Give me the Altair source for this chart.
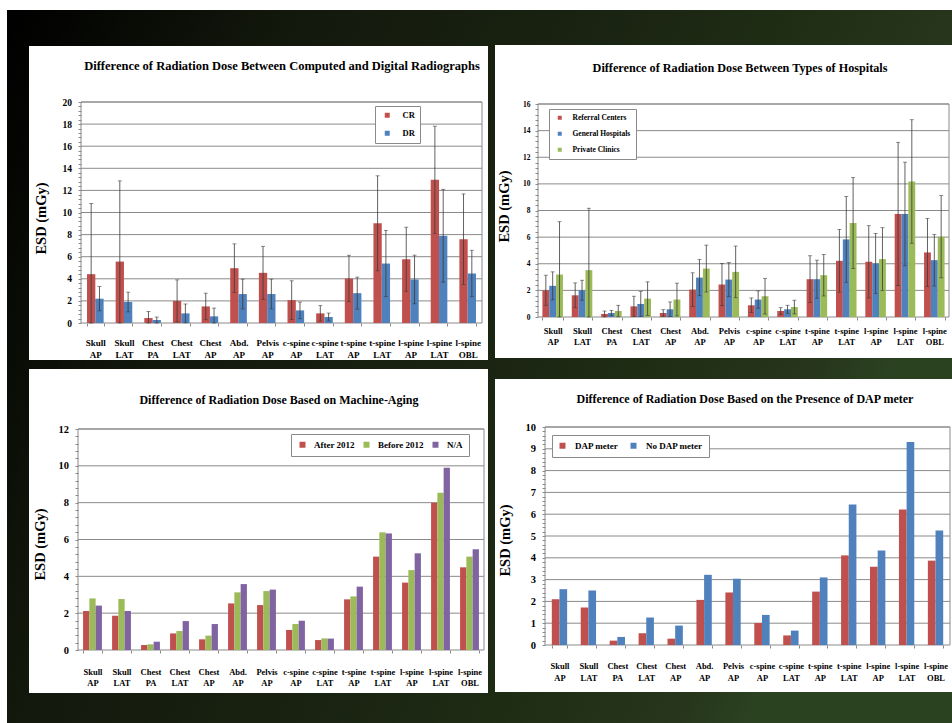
import altair as alt
import pandas as pd

W, H = 952, 723

categories = ["Skull|AP", "Skull|LAT", "Chest|PA", "Chest|LAT", "Chest|AP", "Abd.|AP", "Pelvis|AP",
              "c-spine|AP", "c-spine|LAT", "t-spine|AP", "t-spine|LAT", "l-spine|AP", "l-spine|LAT",
              "l-spine|OBL"]

# Computed (CR) vs digital (DR) radiography: mean ESD and SD (mGy)
cr_mean = [4.42, 5.56, 0.45, 2.00, 1.50, 4.96, 4.54, 2.07, 0.87, 4.03, 9.02, 5.77, 12.96, 7.58]
cr_sd = [6.40, 7.30, 0.60, 1.90, 1.20, 2.20, 2.40, 1.75, 0.70, 2.10, 4.30, 2.90, 4.85, 4.10]
dr_mean = [2.20, 1.90, 0.27, 0.87, 0.60, 2.62, 2.62, 1.14, 0.54, 2.70, 5.38, 3.94, 7.90, 4.48]
dr_sd = [1.10, 0.90, 0.27, 0.85, 0.75, 1.35, 1.35, 0.75, 0.36, 1.45, 3.00, 2.20, 4.20, 2.10]

# Types of hospitals: mean ESD and SD (mGy)
ref_mean = [2.01, 1.63, 0.23, 0.80, 0.30, 2.06, 2.44, 0.88, 0.45, 2.84, 4.22, 4.15, 7.74, 4.85]
ref_sd = [1.13, 0.93, 0.22, 0.76, 0.25, 1.26, 1.58, 0.55, 0.25, 1.76, 2.36, 2.71, 5.38, 2.56]
gen_mean = [2.34, 2.01, 0.30, 0.98, 0.58, 2.96, 2.81, 1.31, 0.58, 2.84, 5.83, 4.02, 7.74, 4.27]
gen_sd = [1.05, 0.75, 0.20, 0.95, 0.55, 1.36, 1.28, 0.65, 0.30, 1.43, 3.22, 2.26, 3.89, 1.94]
pri_mean = [3.19, 3.52, 0.45, 1.38, 1.31, 3.64, 3.39, 1.56, 0.75, 3.14, 7.06, 4.35, 10.18, 6.03]
pri_sd = [3.97, 4.65, 0.43, 1.26, 1.23, 1.76, 1.94, 1.33, 0.51, 1.56, 3.42, 2.36, 4.64, 3.09]

# Machine aging: mean ESD (mGy)
after_2012 = [2.12, 1.86, 0.27, 0.90, 0.58, 2.53, 2.44, 1.09, 0.54, 2.75, 5.07, 3.66, 8.00, 4.49]
before_2012 = [2.80, 2.77, 0.31, 1.03, 0.78, 3.13, 3.20, 1.41, 0.63, 2.91, 6.39, 4.34, 8.54, 5.07]
na_age = [2.41, 2.12, 0.45, 1.57, 1.41, 3.58, 3.28, 1.59, 0.62, 3.44, 6.33, 5.25, 9.90, 5.47]

# Presence of a DAP meter: mean ESD (mGy)
dap_meter = [2.10, 1.72, 0.20, 0.54, 0.29, 2.07, 2.41, 1.01, 0.44, 2.45, 4.11, 3.59, 6.21, 3.87]
no_dap_meter = [2.56, 2.50, 0.37, 1.26, 0.89, 3.22, 3.04, 1.38, 0.66, 3.10, 6.44, 4.33, 9.31, 5.25]

RED, BLUE, GREEN, PURPLE = "#c0504d", "#4f81bd", "#9bbb59", "#8064a2"
FONT = "Liberation Serif"
GRID = "#8a8a8a"
ERR = "#3a3a3a"


def long_table(series_names, means, sds=None):
    rows = []
    for k, name in enumerate(series_names):
        for i, cat in enumerate(categories):
            m = means[k][i]
            row = {"cat": cat, "series": name, "esd": m}
            if sds is not None:
                s = sds[k][i]
                row["lo"] = max(0.0, m - s)
                row["hi"] = m + s
            rows.append(row)
    return pd.DataFrame(rows)


def box(x0, x1, y0, y1, **mark):
    return alt.Chart(alt.Data(values=[{}])).mark_rect(**mark).encode(
        x=alt.value(x0), x2=alt.value(x1), y=alt.value(y0), y2=alt.value(y1))


def panel(g, table, series_names, colors, legend, errors=False):
    x0, y0, x1, y1 = g["plot"]
    cx0, cy0, cx1, cy1 = g["card"]
    ymax, major, minor = g["ymax"], g["major"], g["minor"]
    majors = [round(major * k, 6) for k in range(int(round(ymax / major)) + 1)]
    minors = [round(minor * k, 6) for k in range(int(round(ymax / minor)) + 1)]

    yscale = alt.Scale(domain=[0, ymax], range=[y1, y0], nice=False, zero=True)
    xscale = alt.Scale(range=[x0, x1], paddingInner=g["pad"], paddingOuter=g["pad"] / 2)

    # minor ticks everywhere, integer labels on the major steps only;
    # every layer on the shared y scale carries this same axis definition
    y_axis = alt.Axis(
        orient="left", offset=-x0, values=minors,
        labelExpr=(f"abs(datum.value / {major} - round(datum.value / {major})) < 0.001"
                   " ? '' + round(datum.value) : ''"),
        domain=False, grid=False, ticks=True, tickSize=3, tickColor=GRID,
        labelFont=FONT, labelFontWeight="bold", labelFontSize=g["ytick_fs"], labelColor="black",
        labelPadding=g["ylab_pad"], labelOverlap=False,
        title="ESD (mGy)", titleFont=FONT, titleFontWeight="bold", titleFontSize=14.5,
        titleColor="black", titleAngle=270, titleX=g["ytitle"][0] - x0, titleY=g["ytitle"][1],
        titleAlign="center", titleBaseline="middle", zindex=1)

    x_axis = alt.Axis(
        orient="bottom", offset=y1 - H, domain=False, grid=False, ticks=True, tickBand="extent",
        tickSize=3, tickColor=GRID, labelExpr="split(datum.label, '|')", labelAngle=0,
        labelFont=FONT, labelFontWeight="bold", labelFontSize=g["xlab_fs"],
        labelLineHeight=g["xlab_lh"], labelPadding=g["xlab_pad"], labelColor="black",
        labelOverlap=False, title=None, zindex=1)

    card = box(cx0, cx1, cy0, cy1, color="white")
    grid = alt.Chart(pd.DataFrame({"tick": majors[1:]})).mark_rule(
        color=GRID, strokeWidth=1).encode(
        y=alt.Y("tick:Q", scale=yscale, axis=y_axis), x=alt.value(x0), x2=alt.value(x1))
    frame = box(x0, x1, y0, y1, filled=False, stroke=GRID, strokeWidth=1)

    base = alt.Chart(table).encode(
        x=alt.X("cat:N", sort=categories, scale=xscale, axis=x_axis),
        xOffset=alt.XOffset("series:N", sort=series_names),
    )
    bars = base.mark_bar().encode(
        y=alt.Y("esd:Q", scale=yscale, axis=y_axis),
        color=alt.Color("series:N", sort=series_names,
                        scale=alt.Scale(domain=series_names, range=colors), legend=legend),
    )
    layers = [card, grid, frame, bars]
    if errors:
        layers.append(base.mark_rule(color=ERR, strokeWidth=0.8).encode(
            y=alt.Y("lo:Q", scale=yscale, axis=y_axis), y2="hi:Q"))
        layers.append(base.mark_tick(color=ERR, thickness=0.8, size=4).encode(
            y=alt.Y("hi:Q", scale=yscale, axis=y_axis)))
        layers.append(base.mark_tick(color=ERR, thickness=0.8, size=4).encode(
            y=alt.Y("lo:Q", scale=yscale, axis=y_axis)))
    tx, ty = g["title_xy"]
    layers.append(alt.Chart(alt.Data(values=[{}])).mark_text(
        text=g["title"], font=FONT, fontWeight="bold", fontSize=g["title_fs"],
        align="center", baseline="middle", color="black").encode(
        x=alt.value(tx), y=alt.value(ty)))
    return alt.layer(*layers)


def legend(x, y, direction, fs, sym, pad, offset, row=0, col=0, sym_off=0):
    return alt.Legend(
        orient="none", legendX=x, legendY=y, direction=direction, title=None,
        fillColor="white", strokeColor=GRID, padding=pad, symbolType="square",
        symbolSize=sym, symbolStrokeWidth=0, labelFont=FONT, labelFontWeight="bold",
        labelFontSize=fs, labelColor="black", labelOffset=offset, rowPadding=row,
        columnPadding=col, symbolOffset=sym_off)


g1 = dict(plot=(81, 102, 482, 323), card=(29, 46, 488, 360), ymax=20, major=2, minor=0.4,
          pad=0.42, ytick_fs=9.5, ylab_pad=6.5, ytitle=(41, 218), xlab_fs=9, xlab_lh=12,
          xlab_pad=12.5, title_xy=(282, 66), title_fs=12.5,
          title="Difference of Radiation Dose Between Computed and Digital Radiographs")
g2 = dict(plot=(538, 104, 949, 317), card=(495, 45, 952, 358), ymax=16, major=2, minor=0.4,
          pad=0.3, ytick_fs=7.5, ylab_pad=5, ytitle=(504, 206), xlab_fs=8.5, xlab_lh=11,
          xlab_pad=6.5, title_xy=(740, 67.5), title_fs=12.2,
          title="Difference of Radiation Dose Between Types of Hospitals")
g3 = dict(plot=(78, 429, 484, 650), card=(29, 369, 488, 693), ymax=12, major=2, minor=0.4,
          pad=0.35, ytick_fs=10.5, ylab_pad=6.5, ytitle=(40, 544), xlab_fs=8.5, xlab_lh=11,
          xlab_pad=14, title_xy=(279, 400), title_fs=12,
          title="Difference of Radiation Dose Based on Machine-Aging")
g4 = dict(plot=(545, 427, 950, 645), card=(495, 379, 952, 692), ymax=10, major=1, minor=0.2,
          pad=0.47, ytick_fs=10.5, ylab_pad=6.5, ytitle=(505, 540), xlab_fs=8.5, xlab_lh=12,
          xlab_pad=13, title_xy=(745, 399), title_fs=12,
          title="Difference of Radiation Dose Based on the Presence of DAP meter")

s1 = ["CR", "DR"]
s2 = ["Referral Centers", "General Hospitals", "Private Clinics"]
s3 = ["After 2012", "Before 2012", "N/A"]
s4 = ["DAP meter", "No DAP meter"]

p1 = panel(g1, long_table(s1, [cr_mean, dr_mean], [cr_sd, dr_sd]), s1, [RED, BLUE],
           legend(375, 106, "vertical", 8.5, 25, 5, 11, row=9, sym_off=3), errors=True)
p2 = panel(g2, long_table(s2, [ref_mean, gen_mean, pri_mean], [ref_sd, gen_sd, pri_sd]), s2,
           [RED, BLUE, GREEN],
           legend(549, 109, "vertical", 7.5, 16, 5, 9, row=7, sym_off=2), errors=True)
p3 = panel(g3, long_table(s3, [after_2012, before_2012, na_age]), s3, [RED, GREEN, PURPLE],
           legend(291, 434, "horizontal", 9, 36, 6, 7, col=6, sym_off=1))
p4 = panel(g4, long_table(s4, [dap_meter, no_dap_meter]), s4, [RED, BLUE],
           legend(552, 435, "horizontal", 9, 36, 6, 8, col=10))

backdrop = box(7, W, 10, H, fill={
    "gradient": "linear", "x1": 0, "y1": 0, "x2": 1, "y2": 0.3,
    "stops": [
        {"offset": 0, "color": "#000000"},
        {"offset": 0.28, "color": "#13180c"},
        {"offset": 0.6, "color": "#1a2412"},
        {"offset": 0.78, "color": "#202e15"},
        {"offset": 0.92, "color": "#26351b"},
        {"offset": 1, "color": "#2b4221"},
    ]})

chart = alt.layer(backdrop, p1, p2, p3, p4).resolve_scale(
    x="independent", y="independent", xOffset="independent", color="independent"
).resolve_axis(x="independent", y="independent").resolve_legend(color="independent").properties(
    width=W, height=H, padding=0, background="white",
    autosize=alt.AutoSizeParams(type="none"),
).configure_view(stroke=None)

chart.save("out.html", embed_options={"renderer": "svg", "actions": False})
